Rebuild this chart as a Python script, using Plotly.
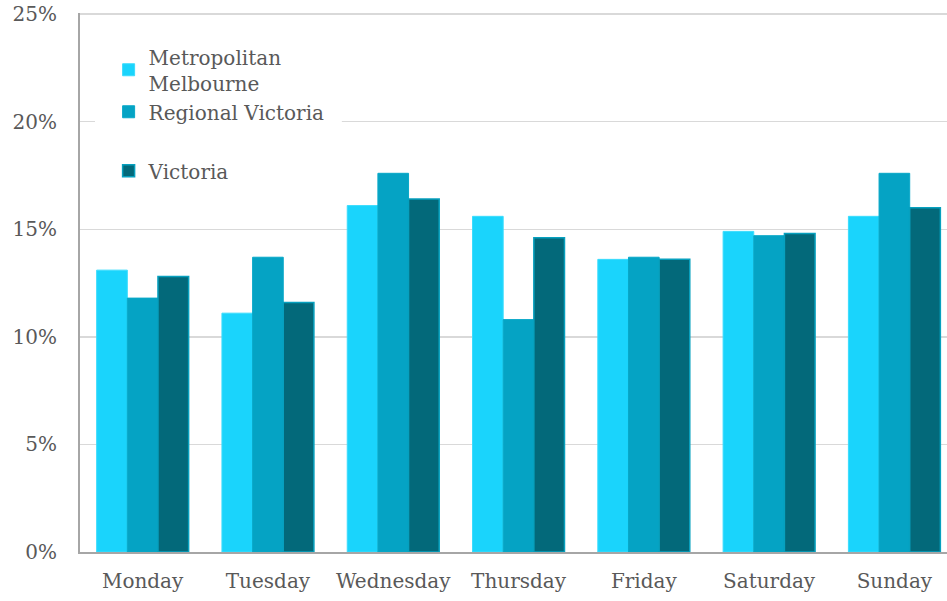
import plotly.graph_objects as go

days = ["Monday", "Tuesday", "Wednesday", "Thursday", "Friday", "Saturday", "Sunday"]
metro = [13.1, 11.1, 16.1, 15.6, 13.6, 14.9, 15.6]
regional = [11.8, 13.7, 17.6, 10.8, 13.7, 14.7, 17.6]
victoria = [12.8, 11.6, 16.4, 14.6, 13.6, 14.8, 16.0]
yticks = [0, 5, 10, 15, 20, 25]
ytick_text = ["0%", "5%", "10%", "15%", "20%", "25%"]

FONT = "DejaVu Serif"
TXT = "#595959"

fig = go.Figure()
fig.add_trace(go.Bar(x=days, y=metro, name="Metropolitan<br>Melbourne",
                     marker=dict(color="#1AD4FC", line=dict(color="#3ADCFD", width=1)),
                     legendgroup="a"))
fig.add_trace(go.Bar(x=days, y=regional, name="Regional Victoria",
                     marker=dict(color="#05A3C4", line=dict(color="#08A8C8", width=1)),
                     legendgroup="a"))
fig.add_trace(go.Bar(x=days, y=victoria, name="Victoria",
                     marker=dict(color="#03697A", line=dict(color="#07A0BE", width=1.5)),
                     legendgroup="b"))

# white box behind legend hides part of the 20% gridline
fig.add_shape(type="rect", xref="paper", yref="y", x0=0.0173, x1=0.302, y0=19.4, y1=20.6,
              fillcolor="white", line=dict(width=0), layer="above")

fig.update_layout(
    width=947, height=601,
    margin=dict(l=80, r=0, t=13, b=49),
    plot_bgcolor="white", paper_bgcolor="white",
    barmode="group", bargap=0.266, bargroupgap=0,
    font=dict(family=FONT, size=20, color=TXT),
    showlegend=True,
    hovermode=False,
    legend=dict(x=0.033, y=0.955, xanchor="left", yanchor="top",
                bgcolor="rgba(0,0,0,0)", font=dict(family=FONT, size=20, color=TXT),
                traceorder="grouped", tracegroupgap=30, itemclick=False),
    xaxis=dict(range=[-0.5, 6.42], showline=True, linecolor="#A6A6A6", linewidth=2, ticks="",
               tickfont=dict(family=FONT, size=20, color=TXT), ticklabelstandoff=10),
    yaxis=dict(range=[0, 25.05], tickvals=yticks, ticktext=ytick_text,
               showline=True, linecolor="#A6A6A6", linewidth=2,
               showgrid=True, gridcolor="#D9D9D9", gridwidth=1.5, zeroline=False,
               tickfont=dict(family=FONT, size=20, color=TXT), ticklabelstandoff=17),
)

# remove the browser's default 8px body margin so the figure fills the window
fig.write_html("out.html",
               config={"displayModeBar": False, "staticPlot": True},
               post_script="document.body.style.margin='0';document.body.style.overflow='hidden';")
